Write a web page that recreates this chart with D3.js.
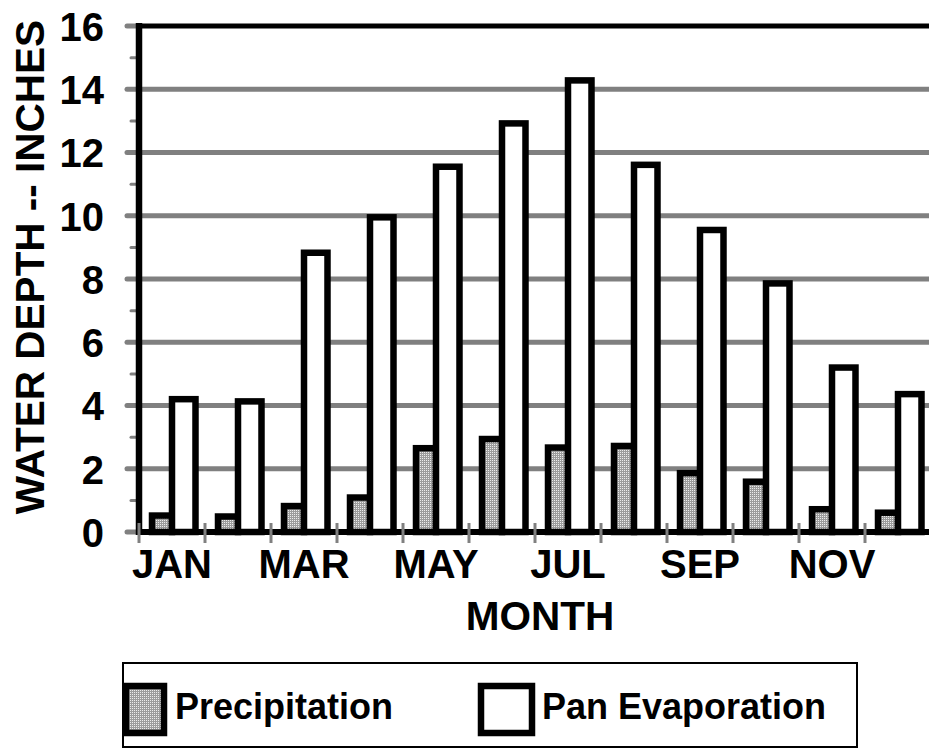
<!DOCTYPE html>
<html>
<head>
<meta charset="utf-8">
<script src="https://cdn.jsdelivr.net/npm/d3@7"></script>
<style>
  html, body { margin: 0; padding: 0; background: #fff; }
  svg { display: block; font-family: "Liberation Sans", Arial, sans-serif; font-weight: bold; }
</style>
</head>
<body>
<svg id="chart" width="929" height="749"></svg>
<script>
// Monthly water depth (inches)
const months = ["JAN","FEB","MAR","APR","MAY","JUN","JUL","AUG","SEP","OCT","NOV","DEC"];
const monthLabels = ["JAN","MAR","MAY","JUL","SEP","NOV"];
const precipitation = [0.52, 0.49, 0.82, 1.09, 2.65, 2.94, 2.67, 2.72, 1.86, 1.59, 0.72, 0.61];
const panEvaporation = [4.20, 4.13, 8.83, 9.95, 11.55, 12.92, 14.28, 11.61, 9.55, 7.86, 5.20, 4.36];
const majorTicks = [0, 2, 4, 6, 8, 10, 12, 14, 16];
const minorTicks = [1, 3, 5, 7, 9, 11, 13, 15];
const seriesNames = ["Precipitation", "Pan Evaporation"];

const svg = d3.select("#chart");
const plot = { left: 139, right: 931, top: 26, bottom: 532 };

const x = d3.scaleBand().domain(months).range([plot.left, plot.right]).padding(0);
const y = d3.scaleLinear().domain([0, 16]).range([plot.bottom, plot.top]);
// position of each series inside a month slot (fraction of the slot)
const inner = d3.scaleOrdinal().domain(seriesNames).range([[0.197, 0.303], [0.5, 0.356]]);

const defs = svg.append("defs");
const pat = defs.append("pattern")
  .attr("id", "stipple").attr("patternUnits", "userSpaceOnUse")
  .attr("width", 2).attr("height", 2);
pat.append("rect").attr("width", 2).attr("height", 2).attr("fill", "#9c9c9c");
pat.append("rect").attr("width", 1).attr("height", 1).attr("fill", "#ececec");

const GRID = "#808080";
const FONT = "'Liberation Sans', Arial, sans-serif";

// horizontal gridlines, reaching a little past the axis on the left
svg.append("g").selectAll("line").data(majorTicks).join("line")
  .attr("x1", 127).attr("x2", d => d === 16 ? plot.left : 929)
  .attr("y1", d => y(d)).attr("y2", d => y(d))
  .attr("stroke", GRID).attr("stroke-width", 5).attr("stroke-linecap", "round");

// minor ticks
svg.append("g").selectAll("line").data(minorTicks).join("line")
  .attr("x1", 131).attr("x2", plot.left)
  .attr("y1", d => y(d)).attr("y2", d => y(d))
  .attr("stroke", GRID).attr("stroke-width", 3).attr("stroke-linecap", "round");

// bars
const bw = x.bandwidth();
const SW = 6.5;
const groups = svg.append("g").selectAll("g").data(months).join("g");
groups.append("rect")
  .attr("x", (m) => x(m) + bw * inner("Precipitation")[0])
  .attr("width", bw * inner("Precipitation")[1])
  .attr("y", (m, i) => y(precipitation[i]))
  .attr("height", (m, i) => y(0) - y(precipitation[i]))
  .attr("fill", "url(#stipple)").attr("stroke", "#000").attr("stroke-width", SW);
groups.append("rect")
  .attr("x", (m) => x(m) + bw * inner("Pan Evaporation")[0])
  .attr("width", bw * inner("Pan Evaporation")[1])
  .attr("y", (m, i) => y(panEvaporation[i]))
  .attr("height", (m, i) => y(0) - y(panEvaporation[i]))
  .attr("fill", "#fff").attr("stroke", "#000").attr("stroke-width", SW);

// axis frame: left, bottom and top border
svg.append("line").attr("x1", plot.left).attr("x2", plot.left)
  .attr("y1", plot.top - 3).attr("y2", plot.bottom + 3)
  .attr("stroke", "#000").attr("stroke-width", SW);
svg.append("line").attr("x1", plot.left).attr("x2", 929)
  .attr("y1", plot.bottom).attr("y2", plot.bottom)
  .attr("stroke", "#000").attr("stroke-width", 6);
svg.append("line").attr("x1", plot.left).attr("x2", 929)
  .attr("y1", plot.top).attr("y2", plot.top)
  .attr("stroke", "#000").attr("stroke-width", 5);

// category separators below the axis
svg.append("g").selectAll("line").data(months).join("line")
  .attr("x1", d => x(d)).attr("x2", d => x(d))
  .attr("y1", plot.bottom - 9).attr("y2", plot.bottom + 11)
  .attr("stroke", GRID).attr("stroke-width", 3);

// y tick labels
const yAxis = d3.axisLeft(y).tickValues(majorTicks).tickSize(0).tickPadding(0).tickFormat(d3.format("d"));
const ya = svg.append("g").attr("transform", "translate(104,0)").call(yAxis);
ya.select(".domain").remove();
ya.selectAll("text").attr("font-size", 40).attr("font-weight", "bold")
  .attr("font-family", FONT).attr("fill", "#000").attr("dy", "0.36em");

// x tick labels (every other month)
const xAxis = d3.axisBottom(x).tickValues(monthLabels).tickSize(0).tickPadding(0);
const xa = svg.append("g").attr("transform", "translate(0,550)").call(xAxis);
xa.select(".domain").remove();
xa.selectAll("text").attr("font-size", 40).attr("font-weight", "bold")
  .attr("font-family", FONT).attr("fill", "#000").attr("dy", "0.71em");

// axis titles
svg.append("text").attr("x", 540).attr("y", 630).attr("text-anchor", "middle")
  .attr("font-size", 40.5).text("MONTH");
svg.append("text").attr("transform", "translate(44,267) rotate(-90)").attr("text-anchor", "middle")
  .attr("font-size", 40.5).text("WATER DEPTH -- INCHES");

// legend
const lg = svg.append("g");
lg.append("rect").attr("x", 123).attr("y", 663).attr("width", 734).attr("height", 84)
  .attr("fill", "none").attr("stroke", "#000").attr("stroke-width", 2);
const legendItems = [
  { name: seriesNames[0], fill: "url(#stipple)", sx: 126, tx: 175 },
  { name: seriesNames[1], fill: "#fff", sx: 481, tx: 542 }
];
lg.selectAll("rect.sw").data(legendItems).join("rect").attr("class", "sw")
  .attr("x", d => d.sx).attr("y", 686).attr("width", (d, i) => i === 0 ? 38 : 51).attr("height", 47)
  .attr("fill", d => d.fill).attr("stroke", "#000").attr("stroke-width", SW);
lg.selectAll("text").data(legendItems).join("text")
  .attr("x", d => d.tx).attr("y", 719).attr("font-size", 36).text(d => d.name);
</script>
</body>
</html>
